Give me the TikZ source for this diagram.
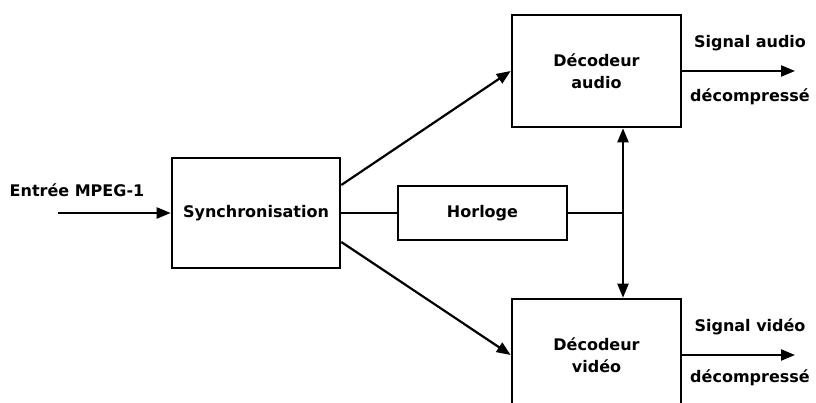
\documentclass[tikz,border=0pt]{standalone}
\usepackage{fontspec}
\setmainfont{DejaVu Sans}
\usetikzlibrary{arrows.meta,positioning,calc}

\begin{document}
\begin{tikzpicture}[x=1pt, y=1pt,
  font=\fontsize{16}{19}\selectfont\bfseries,
  box/.style={draw=black, line width=2.6pt, fill=white, minimum width=169pt, align=center, inner sep=0pt},
  lbl/.style={align=center, inner sep=0pt},
  arr/.style={-{Triangle[length=14pt, width=11pt]}, line width=2.2pt},
  ln/.style={line width=2.2pt}]
\useasboundingbox (0,0) rectangle (816,-403);
\clip (0,0) rectangle (816,-403);
\node[box, minimum width=168pt, minimum height=110pt] (sync) at (256,-213) {Synchronisation};
\node[box, minimum height=54pt] (horl) at (482.5,-213) {Horloge};
\node[box, minimum height=112pt] (adec) at (596.5,-71) {Décodeur\\[3pt]audio};
\node[box, minimum height=112pt] (vdec) at (596.5,-355) {Décodeur\\[3pt]vidéo};
\node[lbl] (inlbl) at (77,-190) {Entrée MPEG-1};
\node[lbl] (asig) at (750,-43) {Signal audio};
\node[lbl] (acmp) at (750,-97) {décompressé};
\node[lbl] (vsig) at (750,-327) {Signal vidéo};
\node[lbl] (vcmp) at (750,-378) {décompressé};
\coordinate (in) at (58,-213);
\coordinate (junc) at (623,-213);
\coordinate (aout) at (795,-71);
\coordinate (vout) at (795,-355);
% flux principal
\draw[arr] (in) -- (sync.west);
\draw[arr] ($(sync.east)+(0,28)$) -- (adec.west);
\draw[arr] ($(sync.east)+(0,-29)$) -- (vdec.west);
\draw[ln] (sync.east) -- (horl.west);
\draw[ln] (horl.east) -- (junc);
\draw[arr] (junc) -- (junc |- adec.south);
\draw[arr] (junc) -- (junc |- vdec.north);
\draw[arr] (adec.east) -- (aout);
\draw[arr] (vdec.east) -- (vout);
\end{tikzpicture}
\end{document}
